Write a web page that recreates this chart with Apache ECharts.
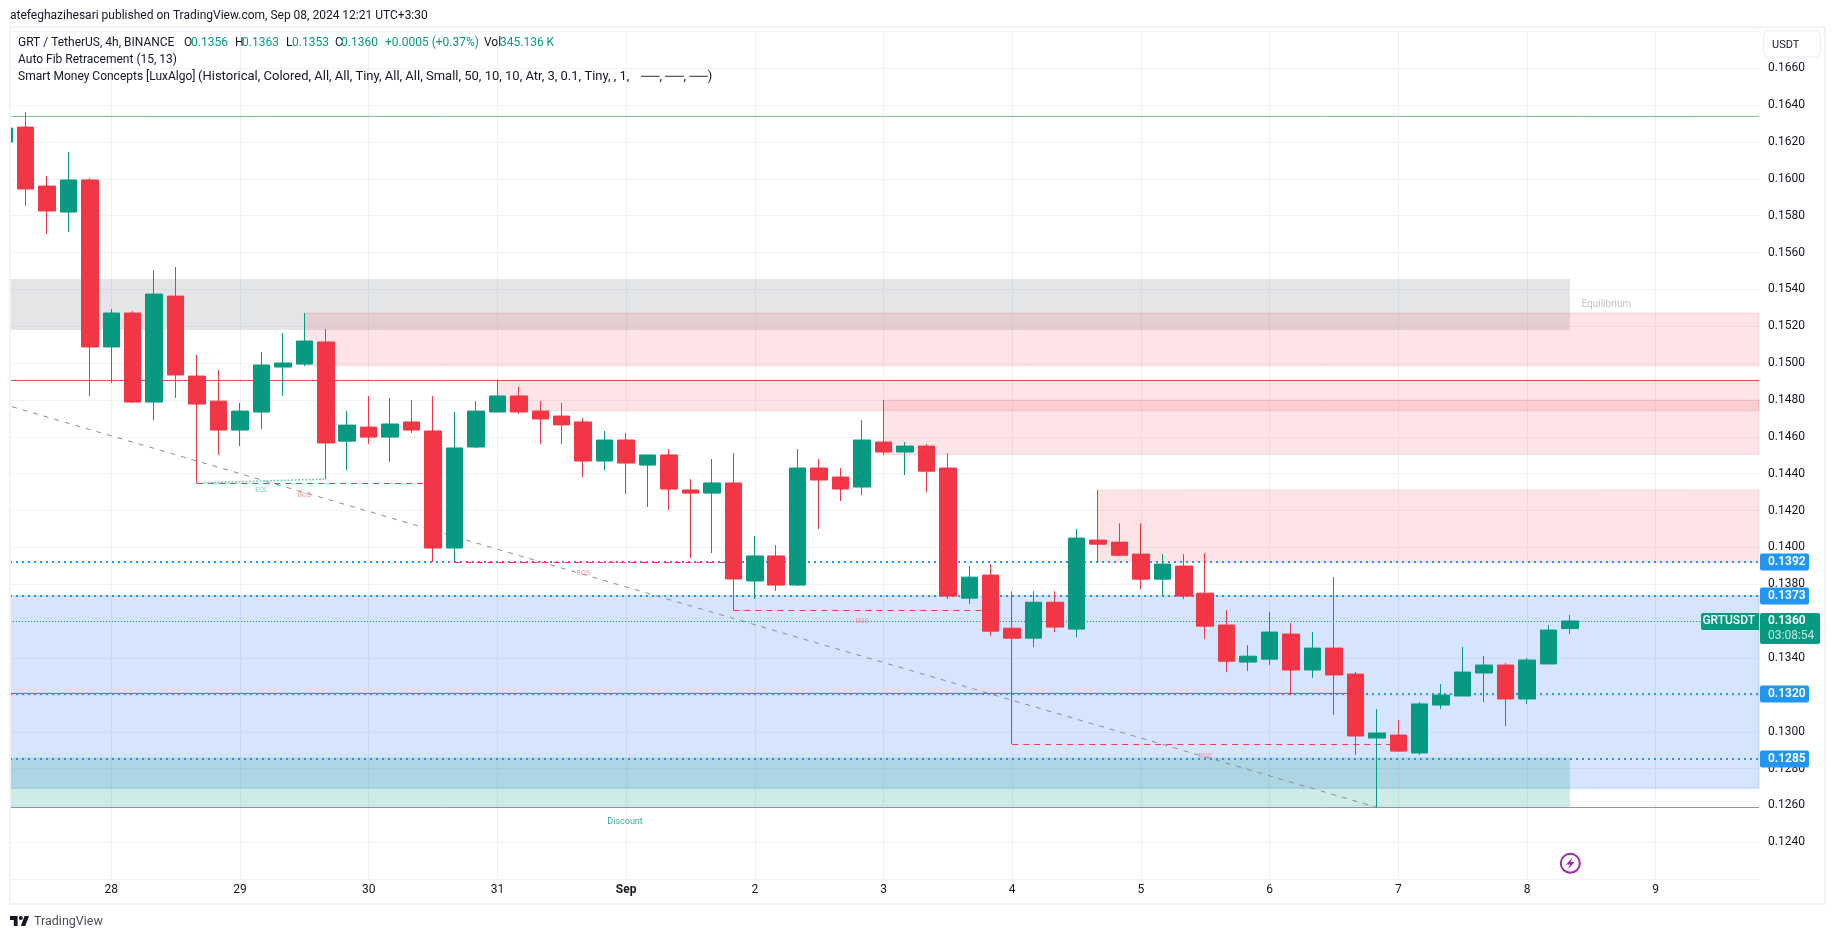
<!DOCTYPE html>
<html>
<head>
<meta charset="utf-8">
<title>GRT / TetherUS</title>
<script src="https://cdn.jsdelivr.net/npm/echarts@6/dist/echarts.min.js"></script>
<style>html,body{margin:0;padding:0;background:#fff}#c{width:1835px;height:939px}</style>
</head>
<body>
<div id="c"></div>
<script>
// ---------- data ----------
const opens = [.16200,.16281,.15961,.15820,.15994,.15088,.15272,.14789,.15364,.14930,.14794,.14637,.14735,.14979,.14995,.15115,.14577,.14653,.14599,.14681,.14632,.13997,.14545,.14735,.14822,.14740,.14713,.14681,.14469,.14583,.14447,.14502,.14312,.14295,.14350,.13818,.13954,.13796,.14431,.14382,.14328,.14572,.14518,.14550,.14431,.13725,.13850,.13562,.13508,.13703,.13557,.14040,.14029,.13964,.13828,.13899,.13752,.13579,.13378,.13394,.13530,.13335,.13454,.13313,.12966,.12982,.12885,.13145,.13194,.13319,.13362,.13178,.13368,.13560];
const closes = [.16276,.15945,.15826,.15994,.15088,.15272,.14789,.15375,.14936,.14778,.14637,.14740,.14990,.15001,.15120,.14567,.14664,.14599,.14670,.14637,.13997,.14540,.14740,.14822,.14735,.14697,.14665,.14469,.14583,.14458,.14502,.14317,.14295,.14350,.13829,.13954,.13796,.14431,.14366,.14317,.14583,.14518,.14550,.14414,.13736,.13839,.13546,.13508,.13703,.13568,.14051,.14018,.13958,.13828,.13910,.13736,.13573,.13383,.13410,.13541,.13335,.13454,.13308,.12977,.12993,.12895,.13151,.13199,.13324,.13362,.13178,.13389,.13552,.13601];
const lows = [.16200,.15853,.15701,.15712,.14822,.14892,.14784,.14691,.14811,.14348,.14502,.14550,.14643,.14822,.14984,.14371,.14420,.14561,.14464,.14621,.13921,.13921,.14540,.14735,.14724,.14561,.14561,.14382,.14420,.14290,.14220,.14203,.13943,.13970,.13661,.13720,.13764,.13791,.14100,.14252,.14284,.14501,.14393,.14300,.13720,.13693,.13519,.12933,.13459,.13541,.13513,.13921,.13953,.13774,.13736,.13720,.13503,.13324,.13329,.13362,.13199,.13292,.13091,.12874,.12590,.12890,.12874,.13123,.13194,.13161,.13031,.13151,.13368,.13530];
const highs = [.16276,.16363,.16016,.16146,.16005,.15294,.15283,.15505,.15522,.15044,.14962,.14784,.15060,.15164,.15272,.15185,.14740,.14822,.14811,.14800,.14822,.14735,.14795,.14909,.14871,.14795,.14784,.14703,.14632,.14621,.14502,.14534,.14371,.14480,.14513,.14062,.14013,.14534,.14480,.14431,.14691,.14800,.14572,.14561,.14512,.13899,.13910,.13763,.13763,.13763,.14100,.14311,.14132,.14132,.13964,.13964,.13969,.13660,.13470,.13649,.13590,.13541,.13840,.13324,.13123,.13064,.13161,.13259,.13460,.13411,.13373,.13400,.13579,.13634];
const dayTickIndex = [6,12,18,24,30,36,42,48,54,60,66,72,78];
const dayLabels = ['28','29','30','31','Sep','2','3','4','5','6','7','8','9'];

// chart extents in candle index / price
const xMin = 1.2774, xMax = 82.816;
const priceMin = 0.122, priceMax = 0.168, priceStep = 0.002;

// zones: start candle, end candle, top, bottom
const zoneStart  = [xMin, 15, 24, 42, 52, xMin, xMin];
const zoneEnd    = [74, xMax, xMax, xMax, xMax, xMax, 74];
const zoneTop    = [.15457,.15272,.14907,.14800,.14312,.13738,.12861];
const zoneBottom = [.15180,.14986,.14742,.14505,.13922,.12693,.12590];
const zoneFill   = ['rgba(120,123,134,.2)','rgba(242,54,69,.13)','rgba(242,54,69,.13)','rgba(242,54,69,.13)','rgba(242,54,69,.13)','rgba(49,121,245,.2)','rgba(8,153,129,.2)'];
const zoneEdge   = ['rgba(120,123,134,0)','rgba(242,54,69,.14)','rgba(242,54,69,.14)','rgba(242,54,69,.14)','rgba(242,54,69,.14)','rgba(49,121,245,.25)','rgba(8,153,129,0)'];

// fib levels with axis tags
const fibLevels = [.139212,.137367,.13205,.128523];
const fibLabels = ['0.1392','0.1373','0.1320','0.1285'];
// solid levels
const solidLevels = [.163385,.14906,.13208,.12589];
const solidEnd    = [xMax,xMax,64,xMax];
const solidColors = ['#7ec97f','#f2443c','#d2395a','#8d93ae'];
// BOS dashed: start candle, end candle, level
const bosStart = [10,22,35,48];
const bosEnd   = [21,35,47,66];
const bosLevel = [.143472,.139185,.13658,.12931];
// trend line
const trendX = [1.37,65];
const trendY = [.147638,.12590];
// equal-lows dotted
const eqlX = [10.3,16];
const eqlY = [.14351,.14371];
// text marks
const noteX = [15,28,41,57,13,75.7,29.95];
const noteY = [.14286,.13858,.13599,.12867,.14308,.15317,.12510];
const noteText = ['BOS','BOS','BOS','BOS','EQL','Equilibrium','Discount'];
const noteColor = ['#f77c80','#f77c80','#f77c80','#f77c80','#5cc0ac','#b2b5be','#089981'];
const noteSize = [7,7,7,7,7,10,9];
// last price
const lastPrice = .135983;
const lastLabel = '0.1360', countdown = '03:08:54', symbolTag = 'GRTUSDT';

const FONT = 'Roboto, "Noto Sans", sans-serif';
const TEXT = '#131722', GREEN = '#089981', RED = '#f23645';

// ---------- build ----------
const candles = opens.map((o, k) => [k + 1, o, closes[k], lows[k], highs[k]]);

const zoneSeries = {
  type: 'line', data: [], z: 1, silent: true, animation: false,
  markArea: {
    silent: true, animation: false,
    data: zoneStart.map((s, k) => [
      { xAxis: s, yAxis: zoneTop[k], itemStyle: { color: zoneFill[k], borderColor: zoneEdge[k], borderWidth: 1 } },
      { xAxis: zoneEnd[k], yAxis: zoneBottom[k] }
    ])
  }
};
const lineSeries = (pts, style, z) => ({
  type: 'line', data: pts, showSymbol: false, symbol: 'none', silent: true, z: z || 2,
  animation: false, lineStyle: style, emphasis: { disabled: true }
});
const levelSeries = [
  ...solidLevels.map((v, k) => lineSeries([[xMin, v], [solidEnd[k], v]], { color: solidColors[k], width: 1 })),
  ...fibLevels.map(v => lineSeries([[xMin, v], [xMax, v]], { color: '#2196f3', width: 2, type: [2, 4] })),
  ...bosLevel.map((v, k) => lineSeries([[bosStart[k], v], [bosEnd[k], v]], { color: RED, width: 1, type: [6, 5] }, 3)),
  lineSeries([[trendX[0], trendY[0]], [trendX[1], trendY[1]]], { color: '#8b8d98', width: 1, type: [5, 6] }),
  lineSeries([[eqlX[0], eqlY[0]], [eqlX[1], eqlY[1]]], { color: '#7fc9b8', width: 1.5, type: [2, 1.5] }),
  lineSeries([[xMin, lastPrice], [xMax, lastPrice]], { color: GREEN, width: 1, type: [1, 2] })
];
const noteSeries = {
  type: 'scatter', z: 4, symbolSize: 1, silent: true, animation: false,
  itemStyle: { color: 'rgba(0,0,0,0)' },
  data: noteX.map((x, k) => ({
    value: [x, noteY[k]],
    label: { show: true, position: 'inside', formatter: noteText[k], color: noteColor[k], fontSize: noteSize[k], fontFamily: FONT }
  }))
};
const tagSeries = {
  type: 'custom', z: 20, silent: true, animation: false, clip: false,
  data: fibLevels.map(v => [xMax, v]).concat([[xMax, lastPrice]]),
  encode: { x: 0, y: 1 },
  renderItem(params, api) {
    const p = api.coord([api.value(0), api.value(1)]);
    const k = params.dataIndex, x = p[0], y = p[1];
    if (k < fibLevels.length) {
      return { type: 'group', children: [
        { type: 'rect', shape: { x: x + 1, y: y - 8.5, width: 49, height: 17, r: 2 }, style: { fill: '#2196f3' } },
        { type: 'text', style: { x: x + 9, y: y, text: fibLabels[k], fill: '#fff', font: '600 12px ' + FONT, verticalAlign: 'middle' } }
      ]};
    }
    return { type: 'group', children: [
      { type: 'rect', shape: { x: x - 58, y: y - 8.5, width: 58, height: 17, r: [2, 0, 0, 2] }, style: { fill: GREEN } },
      { type: 'text', style: { x: x - 4, y: y, text: symbolTag, fill: '#fff', font: '500 12px ' + FONT, align: 'right', verticalAlign: 'middle' } },
      { type: 'rect', shape: { x: x + 1, y: y - 8.5, width: 60, height: 31, r: 2 }, style: { fill: GREEN } },
      { type: 'text', style: { x: x + 9, y: y, text: lastLabel, fill: '#fff', font: '600 12px ' + FONT, verticalAlign: 'middle' } },
      { type: 'text', style: { x: x + 9, y: y + 14.5, text: countdown, fill: '#bfe6de', font: '12px ' + FONT, verticalAlign: 'middle' } }
    ]};
  }
};

const legendLine1 = [
  [18, 'GRT / TetherUS, 4h, BINANCE', TEXT], [184, 'O', TEXT], [191, '0.1356', GREEN],
  [235, 'H', TEXT], [242, '0.1363', GREEN], [286, 'L', TEXT], [292, '0.1353', GREEN],
  [335, 'C', TEXT], [341, '0.1360', GREEN], [385, '+0.0005 (+0.37%)', GREEN],
  [484, 'Vol', TEXT], [500, '345.136 K', GREEN]
];
const text = (x, y, s, fill, size, extra) => ({
  type: 'text', z: 30, silent: true,
  style: Object.assign({ x, y, text: s, fill, font: (size || 12) + 'px ' + FONT, verticalAlign: 'middle' }, extra || {})
});
const graphics = [
  { type: 'rect', z: 28, silent: true, shape: { x: 0, y: 27, width: 9, height: 877 }, style: { fill: '#fff' } },
  { type: 'rect', z: 29, silent: true, shape: { x: 10, y: 27, width: 1815, height: 877 }, style: { fill: 'none', stroke: '#f0f3fa', lineWidth: 2 } },
  text(10, 15.5, 'atefeghazihesari published on TradingView.com, Sep 08, 2024 12:21 UTC+3:30', TEXT, 12),
  ...legendLine1.map(t => text(t[0], 42.5, t[1], t[2], 12)),
  text(18, 59.5, 'Auto Fib Retracement (15, 13)', TEXT, 12),
  text(18, 76.5, 'Smart Money Concepts [LuxAlgo]', TEXT, 12),
  text(198, 76.5, '(Historical, Colored, All, All, Tiny, All, All, Small, 50, 10, 10, Atr, 3, 0.1, Tiny, , 1,', TEXT, 13),
  text(641, 76.5, '──, ──, ──)', TEXT, 13),
  { type: 'rect', z: 30, silent: true, shape: { x: 1763.5, y: 31, width: 57, height: 26, r: 5 }, style: { fill: '#fff', stroke: '#f0f3fa', lineWidth: 1.5 } },
  text(1772, 45.5, 'USDT', TEXT, 11),
  { type: 'circle', z: 30, silent: true, shape: { cx: 1570.3, cy: 863.3, r: 9.5 }, style: { fill: 'none', stroke: '#9c27b0', lineWidth: 2 } },
  { type: 'polygon', z: 30, silent: true, shape: { points: [[1572.6,857.3],[1566,864.6],[1570,864.6],[1568,869.3],[1574.6,862],[1570.6,862]] }, style: { fill: '#9c27b0' } },
  { type: 'polygon', z: 30, silent: true, shape: { points: [[10,916],[17.6,916],[17.6,926],[13.8,926],[13.8,920],[10,920]] }, style: { fill: '#131722' } },
  { type: 'polygon', z: 30, silent: true, shape: { points: [[25.2,926],[20.8,926],[24.6,916],[29,916]] }, style: { fill: '#131722' } },
  { type: 'circle', z: 30, silent: true, shape: { cx: 20.8, cy: 918, r: 2 }, style: { fill: '#131722' } },
  text(34, 922, 'TradingView', '#4a4e5a', 12.5)
];

const chart = echarts.init(document.getElementById('c'), null, { renderer: 'canvas' });
chart.setOption({
  animation: false,
  backgroundColor: '#ffffff',
  grid: { left: 10, right: 76, top: 31.44, bottom: 59.8, containLabel: false },
  xAxis: {
    type: 'value', min: xMin, max: xMax, scale: true,
    axisLine: { show: false },
    axisTick: { show: false, customValues: dayTickIndex },
    splitLine: { show: true, customValues: dayTickIndex, lineStyle: { color: '#eef0f3', width: 1 } },
    axisLabel: {
      customValues: dayTickIndex, margin: 5, color: TEXT, fontSize: 12, fontFamily: FONT,
      showMinLabel: true, showMaxLabel: true, hideOverlap: false,
      formatter: v => {
        const s = dayLabels[dayTickIndex.indexOf(v)] || '';
        return s === 'Sep' ? '{b|Sep}' : s;
      },
      rich: { b: { fontWeight: 'bold', fontSize: 12, fontFamily: FONT, color: TEXT } }
    }
  },
  yAxis: {
    type: 'value', position: 'right', min: priceMin, max: priceMax, interval: priceStep,
    axisLine: { show: false }, axisTick: { show: false },
    splitLine: { show: true, lineStyle: { color: '#f2f3f5', width: 1 } },
    axisLabel: {
      margin: 9, color: TEXT, fontSize: 12, fontFamily: FONT, align: 'left',
      formatter: v => (v < priceMin + 1e-6 || v > priceMax - 1e-6) ? '' : v.toFixed(4)
    }
  },
  graphic: { elements: graphics },
  series: [
    zoneSeries,
    ...levelSeries,
    {
      type: 'candlestick', z: 5, data: candles, barWidth: 17, silent: true,
      encode: { x: 0, y: [1, 2, 3, 4] },
      itemStyle: { color: GREEN, color0: RED, borderColor: GREEN, borderColor0: RED, borderWidth: 1 }
    },
    noteSeries,
    tagSeries
  ]
});
</script>
</body>
</html>
